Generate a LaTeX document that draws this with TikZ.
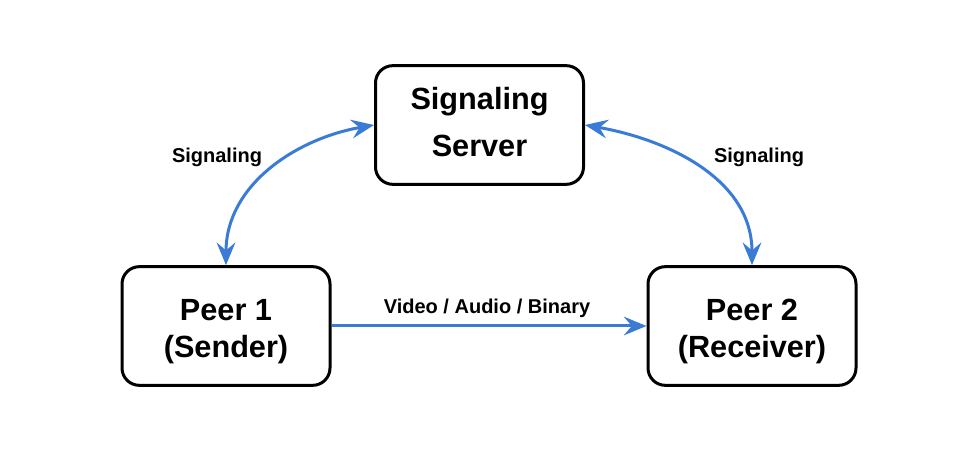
\documentclass[tikz,border=0pt]{standalone}
\usepackage{fontspec}
\setmainfont{Liberation Sans}
\usetikzlibrary{calc}
\usetikzlibrary{positioning}
\usetikzlibrary{arrows.meta}
\definecolor{linkBlue}{RGB}{58,123,213}
\tikzset{every picture/.style={semithick, >={Stealth[length=17pt,width=14pt,inset=6pt]}}}
\newcommand{\topstrut}{\rule{0pt}{24pt}}
\newcommand{\botstrut}{\rule[-4.5pt]{0pt}{0pt}}

\begin{document}
\begin{tikzpicture}[x=0.75pt, y=-0.75pt,
		box/.style={draw, line width=2.25pt, rounded corners=13pt, fill=white,
			minimum width=156pt, minimum height=89pt, align=center,
			font=\bfseries\fontsize{23}{35}\selectfont},
		peerbox/.style={box, font=\bfseries\fontsize{23}{28}\selectfont},
		link/.style={draw=linkBlue, line width=2.25pt},
		lbl/.style={anchor=base, font=\bfseries\fontsize{15}{18}\selectfont}]
		\def\topY{125}
		\def\botY{326}
		\def\midX{479.5}
		\def\peerDX{263}

	\useasboundingbox (0,0) rectangle (958,456);

	\node[box] (server) at (\midX,\topY) {Signaling\\Server\botstrut};
	\node[peerbox] (peer1) at (\midX-\peerDX+9.5,\botY) {\topstrut Peer 1\\(Sender)};
	\node[peerbox] (peer2) at (\midX+\peerDX+9.5,\botY) {\topstrut Peer 2\\(Receiver)};

	\node[lbl] (sigLeft) at (217,163) {Signaling};
	\node[lbl] (sigRight) at (759,163) {Signaling};
	\node[lbl] (media) at (487,314) {Video / Audio / Binary};

	\draw[link, <->] (server.west) [out=190,in=90] to (peer1.north);
	\draw[link, <->] (server.east) [out=-10,in=90] to (peer2.north);
	\draw[link, ->] (peer1.east) -- (peer2.west);

\end{tikzpicture}
\end{document}
